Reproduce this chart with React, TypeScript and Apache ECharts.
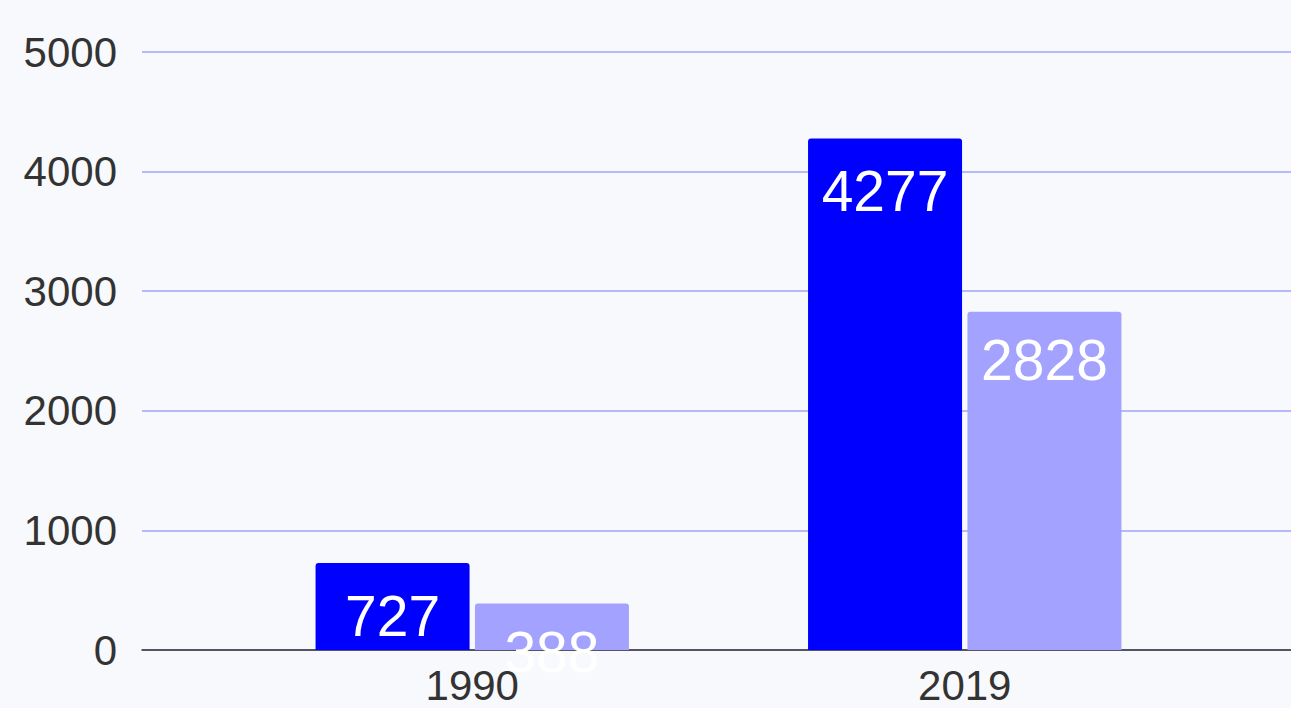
import React, { useEffect, useRef } from "react";
import * as echarts from "echarts";

const categories = ["1990", "2019"];
const seriesA = [727, 4277];
const seriesB = [388, 2828];
const yTicks = [0, 1000, 2000, 3000, 4000, 5000];

export default function App() {
  const ref = useRef<HTMLDivElement>(null);
  useEffect(() => {
    if (!ref.current) return;
    const chart = echarts.init(ref.current, null, { renderer: "svg" });
    const font = "Liberation Sans, Arial, sans-serif";
    const labelStyle = (dist: number) => ({
      show: true,
      position: "insideTop",
      distance: dist,
      color: "#ffffff",
      fontSize: 57,
      fontFamily: font,
    });
    chart.setOption({
      animation: false,
      backgroundColor: "#f8f9fc",
      grid: [
        { left: 142, right: 0, top: 52, bottom: 58, containLabel: false },
        { left: 226, right: 80, top: 52, bottom: 58, containLabel: false },
      ],
      xAxis: [
        {
          type: "category",
          gridIndex: 0,
          data: categories,
          axisLine: { lineStyle: { color: "#333333", width: 1.5 } },
          axisTick: { show: false },
          axisLabel: { show: false },
          splitLine: { show: false },
        },
        {
          type: "category",
          gridIndex: 1,
          data: categories,
          axisLine: { show: false },
          axisTick: { show: false },
          axisLabel: { fontSize: 42, color: "#333333", fontFamily: font, margin: 14 },
        },
      ],
      yAxis: [
        {
          type: "value",
          gridIndex: 0,
          min: yTicks[0],
          max: yTicks[yTicks.length - 1],
          interval: 1000,
          axisLine: { show: false },
          axisTick: { show: false },
          axisLabel: {
            fontSize: 42,
            color: "#333333",
            fontFamily: font,
            margin: 25,
            formatter: (v: number) => String(v),
          },
          splitLine: { lineStyle: { color: "#a3a3f8", width: 1.5 } },
        },
        {
          type: "value",
          gridIndex: 1,
          min: yTicks[0],
          max: yTicks[yTicks.length - 1],
          interval: 1000,
          show: false,
          splitLine: { show: false },
        },
      ],
      series: [
        {
          type: "bar",
          xAxisIndex: 1,
          yAxisIndex: 1,
          data: seriesA,
          barWidth: 154,
          barGap: "3.5%",
          itemStyle: { color: "#0000ff", borderRadius: [3, 3, 0, 0] },
          label: labelStyle(24),
        },
        {
          type: "bar",
          xAxisIndex: 1,
          yAxisIndex: 1,
          data: seriesB,
          barWidth: 154,
          barGap: "3.5%",
          itemStyle: { color: "#a3a3ff", borderRadius: [3, 3, 0, 0] },
          label: labelStyle(20),
        },
      ],
    });
    return () => chart.dispose();
  }, []);
  return (
    <div
      ref={ref}
      style={{ position: "fixed", left: 0, top: 0, width: 1291, height: 708 }}
    />
  );
}
